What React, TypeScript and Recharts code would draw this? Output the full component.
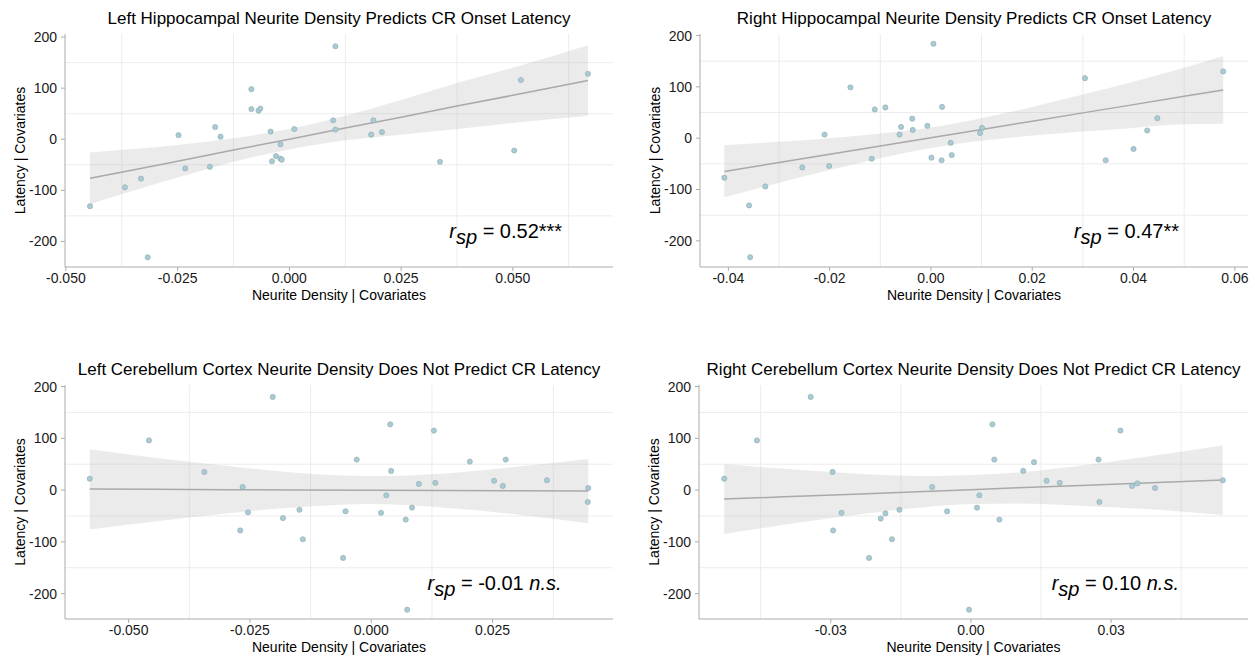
import React from 'react';
import { ComposedChart, Scatter, Area, Line, XAxis, YAxis, CartesianGrid, ReferenceDot } from 'recharts';

const FONT = '"Liberation Sans", Arial, Helvetica, sans-serif';

const yTicks = [-200, -100, 0, 100, 200];
const yGrid = [-150, -50, 50, 150];

// left hippocampus
const lhX = [0.0103, -0.0085, -0.0085, -0.0069, -0.0065, 0.0098, 0.0103, 0.0011, -0.0042, -0.002, -0.003, -0.0039, -0.002, -0.0017, -0.0166, -0.0154, -0.0248, -0.0233, -0.0178, -0.0332, -0.0368, -0.0446, -0.0317, 0.0188, 0.0183, 0.0207, 0.0337, 0.0503, 0.0518, 0.0668];
const lhY = [182, 98, 59, 56, 60, 37, 19, 20, 15, -10, -33, -43, -38, -40, 24, 5, 8, -57, -54, -77, -94, -131, -231, 37, 9, 14, -44, -22, 116, 128];
const lhBandX = [-0.0446, -0.035, -0.025, -0.0125, 0, 0.0125, 0.025, 0.0375, 0.05, 0.0668];
const lhLo = [-127, -101, -75, -44, -20, -2, 9, 20, 32, 46];
const lhHi = [-26, -19, -11, 2, 20, 46, 77, 110, 140, 184];
const lhFit = [-76.5, -60, -43, -21, 0, 22, 43, 65, 86, 115];
const lhTicks = [-0.05, -0.025, 0, 0.025, 0.05];
const lhGrid = [-0.0375, -0.0125, 0.0125, 0.0375, 0.0625];

// right hippocampus
const rhX = [-0.0408, -0.0359, -0.0357, -0.0327, -0.0254, -0.021, -0.0201, -0.0159, -0.0117, -0.0111, -0.009, -0.0062, -0.0059, -0.0037, -0.0036, -0.0007, 0.0005, 0.0001, 0.0022, 0.0021, 0.0039, 0.0041, 0.0101, 0.0097, 0.0304, 0.0345, 0.04, 0.0427, 0.0447, 0.0577];
const rhY = [-77, -131, -232, -94, -57, 7, -54, 99, -40, 56, 60, 7, 22, 38, 16, 24, 184, -38, 61, -43, -9, -33, 20, 10, 117, -43, -21, 15, 39, 130];
const rhBandX = [-0.0408, -0.03, -0.02, -0.01, 0, 0.01, 0.02, 0.03, 0.04, 0.05, 0.0577];
const rhLo = [-115, -87, -62, -39, -19, -5, 5, 13, 20, 27, 28];
const rhHi = [-14, -7, 0, 9, 21, 39, 61, 85, 110, 137, 160];
const rhFit = [-64.7, -47.3, -31.2, -15.1, 1, 17.1, 33.2, 49.3, 65.4, 81.5, 94];
const rhTicks = [-0.04, -0.02, 0, 0.02, 0.04, 0.06];
const rhGrid = [-0.03, -0.01, 0.01, 0.03, 0.05];

// left cerebellum cortex
const lcX = [-0.058, -0.0458, -0.0203, -0.0344, -0.0265, -0.0254, -0.027, -0.0182, -0.0148, -0.0141, -0.0053, -0.0058, -0.003, 0.0039, 0.0041, 0.0031, 0.002, 0.0071, 0.0084, 0.0074, 0.0098, 0.0129, 0.0132, 0.0203, 0.0253, 0.0271, 0.0277, 0.0362, 0.0447, 0.0446];
const lcY = [22, 96, 180, 35, 6, -43, -78, -54, -38, -95, -41, -131, 59, 127, 37, -10, -44, -57, -34, -231, 12, 115, 14, 55, 18, 8, 59, 19, 4, -23];
const lcBandX = [-0.058, -0.045, -0.03, -0.015, 0, 0.015, 0.03, 0.0447];
const lcLo = [-76, -61, -45, -33, -27, -34, -47, -64];
const lcHi = [79, 63, 47, 33, 27, 32, 45, 60];
const lcFit = [1.9, 1.4, 0.9, 0.3, -0.2, -0.8, -1.4, -1.9];
const lcTicks = [-0.05, -0.025, 0, 0.025];
const lcGrid = [-0.0375, -0.0125, 0.0125, 0.0375];

// right cerebellum cortex
const rcX = [-0.0528, -0.0458, -0.0343, -0.0296, -0.0277, -0.0295, -0.0218, -0.0193, -0.0183, -0.0169, -0.0153, -0.0083, -0.0051, -0.0004, 0.0046, 0.005, 0.0018, 0.0013, 0.0061, 0.0112, 0.0135, 0.0162, 0.019, 0.0273, 0.0275, 0.032, 0.0345, 0.0356, 0.0394, 0.0539];
const rcY = [22, 96, 180, 35, -44, -78, -131, -55, -45, -95, -38, 6, -41, -231, 127, 59, -10, -34, -57, 37, 54, 18, 14, 59, -23, 115, 8, 13, 4, 19];
const rcBandX = [-0.0528, -0.04, -0.025, -0.01, 0, 0.01, 0.025, 0.04, 0.0539];
const rcLo = [-85, -67, -48, -33, -27, -26, -31, -38, -48];
const rcHi = [50, 41, 32, 27, 29, 34, 49, 68, 86];
const rcFit = [-17.4, -13, -7.8, -2.7, 0.8, 4.3, 9.4, 14.6, 19.3];
const rcTicks = [-0.03, 0, 0.03];
const rcGrid = [-0.045, -0.015, 0.015, 0.045];

const dot = (p: any) => (
  <circle cx={p.cx} cy={p.cy} r={2.6} fill="#a9cbd4" stroke="#8ea9b0" strokeWidth={0.6} />
);

const axisTick = { fill: '#1a1a1a', fontSize: 14, fontFamily: FONT };

function Panel(props: any) {
  const { left, top, w, h, margin, xDomain, yDomain, xTicks, xGrid, digits,
    px, py, bx, lo, hi, fit, stat, note, statX, statY } = props;
  const points = px.map((x: number, i: number) => ({ x, y: py[i] }));
  const band = bx.map((x: number, i: number) => ({ x, ci: [lo[i], hi[i]], fit: fit[i] }));

  const statLabel = (lp: any) => {
    const vb = lp.viewBox;
    const cx = vb.x + vb.width / 2;
    const cy = vb.y + vb.height / 2;
    return (
      <text x={cx} y={cy} textAnchor="middle" fontSize={20} fontFamily={FONT} fill="#000">
        <tspan fontStyle="italic">r</tspan>
        <tspan fontStyle="italic" dy={6}>sp</tspan>
        <tspan dy={-6}>{` = ${stat}`}</tspan>
        {note === 'ns' ? <tspan fontStyle="italic">{' n.s.'}</tspan> : <tspan>{note}</tspan>}
      </text>
    );
  };

  return (
    <div style={{ position: 'absolute', left, top }}>
      <ComposedChart width={w} height={h} data={band} margin={margin}>
        <CartesianGrid stroke="#ececec" horizontalValues={yGrid} verticalValues={xGrid} />
        <XAxis
          type="number"
          dataKey="x"
          domain={xDomain}
          ticks={xTicks}
          interval={0}
          allowDataOverflow
          tickFormatter={(v: number) => v.toFixed(digits)}
          height={30}
          stroke="#ababab"
          tick={axisTick}
          tickSize={4}
          tickMargin={2}
        />
        <YAxis
          type="number"
          domain={yDomain}
          ticks={yTicks}
          interval={0}
          allowDataOverflow
          width={40}
          stroke="#ababab"
          tick={axisTick}
          tickSize={4}
          tickMargin={4}
        />
        <Scatter data={points} dataKey="y" shape={dot} isAnimationActive={false} />
        <Area dataKey="ci" type="monotone" fill="#bdbdbd" fillOpacity={0.3} stroke="none" isAnimationActive={false} />
        <Line dataKey="fit" type="linear" stroke="#a9a9a9" strokeWidth={1.5} dot={false} activeDot={false} isAnimationActive={false} />
        <ReferenceDot x={statX} y={statY} r={1} fill="none" stroke="none" label={statLabel} />
      </ComposedChart>
    </div>
  );
}

const titleStyle = { fontSize: 17, fontFamily: FONT, fill: '#000' };
const axStyle = { fontSize: 14, fontFamily: FONT, fill: '#000' };

export default function App() {
  return (
    <div style={{ position: 'absolute', left: 0, top: 0, width: 1255, height: 658, background: '#fff' }}>
      <Panel left={0} top={0} w={627} h={329} margin={{ top: 34, right: 14, bottom: 32, left: 25 }}
        xDomain={[-0.0502, 0.0724]} yDomain={[-250, 206]} xTicks={lhTicks} xGrid={lhGrid} digits={3}
        px={lhX} py={lhY} bx={lhBandX} lo={lhLo} hi={lhHi} fit={lhFit}
        stat="0.52" note="***" statX={0.0484} statY={-193.5} />
      <Panel left={627} top={0} w={628} h={329} margin={{ top: 34, right: 7, bottom: 32, left: 33 }}
        xDomain={[-0.0456, 0.0626]} yDomain={[-251, 203]} xTicks={rhTicks} xGrid={rhGrid} digits={2}
        px={rhX} py={rhY} bx={rhBandX} lo={rhLo} hi={rhHi} fit={rhFit}
        stat="0.47" note="**" statX={0.0386} statY={-195} />
      <Panel left={0} top={329} w={627} h={329} margin={{ top: 56, right: 14, bottom: 9, left: 25 }}
        xDomain={[-0.0631, 0.0498]} yDomain={[-249, 203]} xTicks={lcTicks} xGrid={lcGrid} digits={3}
        px={lcX} py={lcY} bx={lcBandX} lo={lcLo} hi={lcHi} fit={lcFit}
        stat="-0.01" note="ns" statX={0.0254} statY={-193} />
      <Panel left={627} top={329} w={628} h={329} margin={{ top: 56, right: 7, bottom: 9, left: 32 }}
        xDomain={[-0.0582, 0.0593]} yDomain={[-249, 203]} xTicks={rcTicks} xGrid={rcGrid} digits={2}
        px={rcX} py={rcY} bx={rcBandX} lo={rcLo} hi={rcHi} fit={rcFit}
        stat="0.10" note="ns" statX={0.0309} statY={-193} />

      <svg width={1255} height={658} style={{ position: 'absolute', left: 0, top: 0, pointerEvents: 'none' }}>
        <text x={339} y={24} textAnchor="middle" style={titleStyle}>Left Hippocampal Neurite Density Predicts CR Onset Latency</text>
        <text x={974} y={24} textAnchor="middle" style={titleStyle}>Right Hippocampal Neurite Density Predicts CR Onset Latency</text>
        <text x={339} y={375} textAnchor="middle" style={titleStyle}>Left Cerebellum Cortex Neurite Density Does Not Predict CR Latency</text>
        <text x={973.5} y={375} textAnchor="middle" style={titleStyle}>Right Cerebellum Cortex Neurite Density Does Not Predict CR Latency</text>

        <text x={339} y={300} textAnchor="middle" style={axStyle}>Neurite Density | Covariates</text>
        <text x={974} y={300} textAnchor="middle" style={axStyle}>Neurite Density | Covariates</text>
        <text x={339} y={652} textAnchor="middle" style={axStyle}>Neurite Density | Covariates</text>
        <text x={973.5} y={652} textAnchor="middle" style={axStyle}>Neurite Density | Covariates</text>

        <text transform="translate(25,150.5) rotate(-90)" textAnchor="middle" style={axStyle}>Latency | Covariates</text>
        <text transform="translate(660,150.5) rotate(-90)" textAnchor="middle" style={axStyle}>Latency | Covariates</text>
        <text transform="translate(25,502) rotate(-90)" textAnchor="middle" style={axStyle}>Latency | Covariates</text>
        <text transform="translate(659,502) rotate(-90)" textAnchor="middle" style={axStyle}>Latency | Covariates</text>
      </svg>
    </div>
  );
}
